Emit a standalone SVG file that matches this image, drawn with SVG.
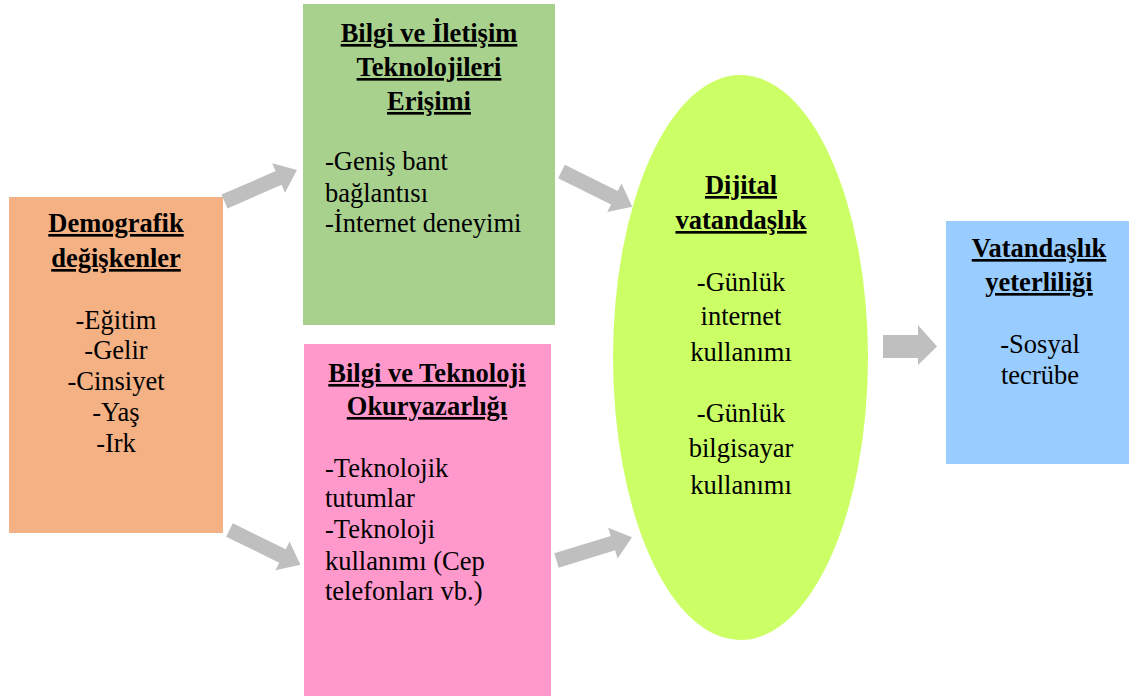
<svg xmlns="http://www.w3.org/2000/svg" width="1129" height="697" viewBox="0 0 1129 697">
<style>
text{font-family:'Liberation Serif',Tinos,'Times New Roman','DejaVu Serif',serif;font-size:26.5px;fill:#000}
.t{font-weight:bold;text-decoration:underline}
.c{text-anchor:middle}
.arr{fill:#BFBFBF}
</style>
<defs>
<path id="a80" d="M0,-7.5 L59,-7.5 L59,-16 L79,0 L59,16 L59,7.5 L0,7.5 Z"/>
</defs>
<rect width="1129" height="697" fill="#fff"/>
<g id="connectors" class="arr">
<use href="#a80" transform="translate(224.5,201.5) rotate(-23.5)"/>
<use href="#a80" transform="translate(561.5,171.5) rotate(26.4)"/>
<use href="#a80" transform="translate(229.5,530) rotate(26.1)"/>
<use href="#a80" transform="translate(556.5,560.5) rotate(-17.1)"/>
<path d="M883,335 L918,335 L918,325 L937,346.5 L918,365 L918,358 L883,358 Z"/>
</g>
<g id="demografik">
<rect x="9" y="197" width="214" height="336" fill="#F4B183"/>
<text class="t c" x="116" y="232">Demografik</text>
<text class="t c" x="116" y="267">değişkenler</text>
<text class="c" x="116" y="329">-Eğitim</text>
<text class="c" x="116" y="359">-Gelir</text>
<text class="c" x="116" y="390">-Cinsiyet</text>
<text class="c" x="116" y="421">-Yaş</text>
<text class="c" x="116" y="452">-Irk</text>
</g>
<g id="bit-erisimi">
<rect x="303" y="4" width="252" height="321" fill="#A9D18E"/>
<text class="t c" x="429" y="42">Bilgi ve İletişim</text>
<text class="t c" x="429" y="76">Teknolojileri</text>
<text class="t c" x="429" y="110">Erişimi</text>
<text x="325" y="170">-Geniş bant</text>
<text x="325" y="202">bağlantısı</text>
<text x="325" y="232">-İnternet deneyimi</text>
</g>
<g id="okuryazarlik">
<rect x="304" y="344" width="247" height="352" fill="#FF99CC"/>
<text class="t c" x="427" y="382">Bilgi ve Teknoloji</text>
<text class="t c" x="427" y="415">Okuryazarlığı</text>
<text x="325" y="477">-Teknolojik</text>
<text x="325" y="507">tutumlar</text>
<text x="325" y="538">-Teknoloji</text>
<text x="325" y="570">kullanımı (Cep</text>
<text x="325" y="600">telefonları vb.)</text>
</g>
<g id="dijital">
<ellipse cx="740.5" cy="357.5" rx="127.5" ry="282.5" fill="#CCFF66"/>
<text class="t c" x="741" y="194">Dijital</text>
<text class="t c" x="741" y="229">vatandaşlık</text>
<text class="c" x="741" y="291">-Günlük</text>
<text class="c" x="741" y="325">internet</text>
<text class="c" x="741" y="361">kullanımı</text>
<text class="c" x="741" y="422">-Günlük</text>
<text class="c" x="741" y="457">bilgisayar</text>
<text class="c" x="741" y="494">kullanımı</text>
</g>
<g id="yeterlilik">
<rect x="946" y="221" width="183" height="243" fill="#99CCFF"/>
<text class="t c" x="1039" y="257">Vatandaşlık</text>
<text class="t c" x="1039" y="291">yeterliliği</text>
<text class="c" x="1040" y="353">-Sosyal</text>
<text class="c" x="1040" y="384">tecrübe</text>
</g>
</svg>
